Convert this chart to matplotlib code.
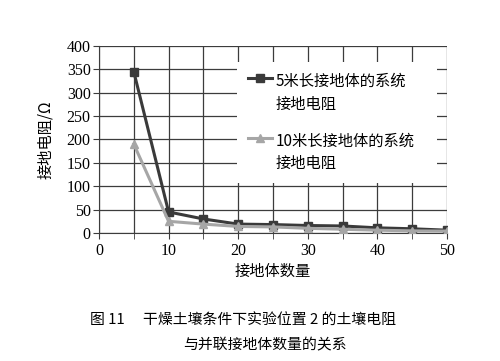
import matplotlib.pyplot as plt

plt.rcParams['font.family'] = ['Liberation Serif', 'Noto Sans CJK SC']

# data
counts = [5, 10, 15, 20, 25, 30, 35, 40, 45, 50]
r_5m = [345, 45, 30, 19, 18, 16, 15, 11, 9, 6]
r_10m = [190, 25, 19, 14, 13, 10, 8, 6, 4.5, 4]

label_5m = "5米长接地体的系统\n接地电阻"
label_10m = "10米长接地体的系统\n接地电阻"
caption_1 = "图 11　 干燥土壤条件下实验位置 2 的土壤电阻"
caption_2 = "与并联接地体数量的关系"

CJK = ['Noto Sans CJK SC', 'DejaVu Sans']
GRID = "#3c3c3c"

fig = plt.figure(figsize=(5, 3.61), dpi=100)
ax = fig.add_axes([0.198, 0.3546, 0.696, 0.518])

ax.plot(counts, r_5m, color="#3a3a3a", lw=2.2, marker="s", ms=5.5,
        label=label_5m, zorder=3)
ax.plot(counts, r_10m, color="#a6a6a6", lw=2.2, marker="^", ms=5.5,
        label=label_10m, zorder=3)

ax.set_xlim(0, 50)
ax.set_ylim(0, 400)
ax.set_xticks(range(0, 51, 10))
ax.set_xticks(range(0, 51, 5), minor=True)
ax.set_yticks(range(0, 401, 50))
ax.grid(True, which="both", color=GRID, lw=0.9)
ax.set_axisbelow(True)
for side in ("top", "right"):
    ax.spines[side].set_visible(False)
for side in ("left", "bottom"):
    ax.spines[side].set_color(GRID)
ax.tick_params(which="both", direction="out", color=GRID, length=4,
               labelsize=11.5, pad=2)
ax.tick_params(axis="x", which="major", pad=3)

ax.set_ylabel("接地电阻/Ω", family=CJK, fontsize=11, labelpad=9)
ax.set_xlabel("接地体数量", family=CJK, fontsize=11, labelpad=3)

leg = ax.legend(loc="upper left", bbox_to_anchor=(0.397, 0.28, 0.574, 0.634),
                mode="expand", prop={'family': CJK, 'size': 11}, frameon=True,
                fancybox=False, edgecolor="none", facecolor="white",
                framealpha=1, handlelength=1.6, labelspacing=1.3,
                handletextpad=0.2, borderpad=0.7, borderaxespad=0)
for t in leg.get_texts():
    t.set_linespacing(1.45)
# put each handle level with the first line of its label
for col in leg._legend_handle_box.get_children():
    for row in col.get_children():
        row.align = "top"

fig.text(0.18, 0.113, caption_1, family=CJK, fontsize=10.7,
         ha="left", va="center")
fig.text(0.529, 0.044, caption_2, family=CJK, fontsize=10.7,
         ha="center", va="center")

fig.savefig("out.png", dpi=100, facecolor="white")
